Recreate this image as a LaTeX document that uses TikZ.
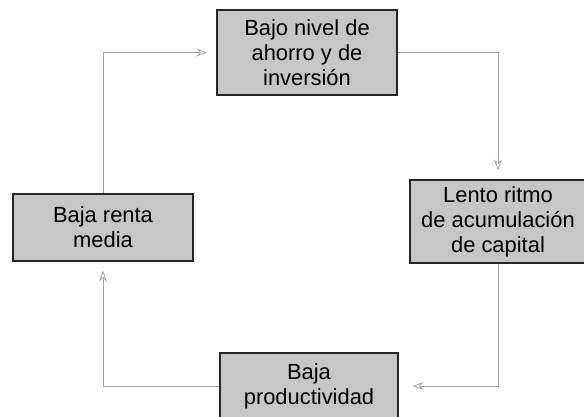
\documentclass[tikz,border=0pt]{standalone}
\usepackage{fontspec}
\setmainfont{Liberation Sans}
\usetikzlibrary{arrows.meta}

\begin{document}
\begin{tikzpicture}[x=1bp, y=-1bp,
	box/.style={rectangle, draw=black!85, line width=1.1bp, fill=gray!45, align=center,
		font=\fontsize{22}{25}\selectfont, inner sep=0pt},
	link/.style={draw=gray!70, line width=0.8bp},
	tip/.style={-{Stealth[length=11bp, width=8bp, open]}, shorten >=9bp}]
\useasboundingbox (0,0) rectangle (584,416);
\node [box, minimum width=180bp, minimum height=85bp] (ahorro) at (307,52.5) {Bajo nivel de\\ ahorro y de\\ inversi\'on};
\node [box, minimum width=176bp, minimum height=83bp] (ritmo) at (498,221.5) {Lento ritmo\\ de acumulaci\'on\\ de capital};
\node [box, minimum width=178bp, minimum height=66bp] (prod) at (309,386) {Baja\\ productividad};
\node [box, minimum width=180bp, minimum height=67bp] (renta) at (103,227.5) {Baja renta\\ media};
\draw [link, tip] (ahorro.east) -| (ritmo.north);
\draw [link, tip, shorten >=14bp] (ritmo.south) |- (prod.east);
\draw [link, tip] (prod.west) -| (renta.south);
\draw [link, tip] (renta.north) |- (ahorro.west);
\end{tikzpicture}
\end{document}
